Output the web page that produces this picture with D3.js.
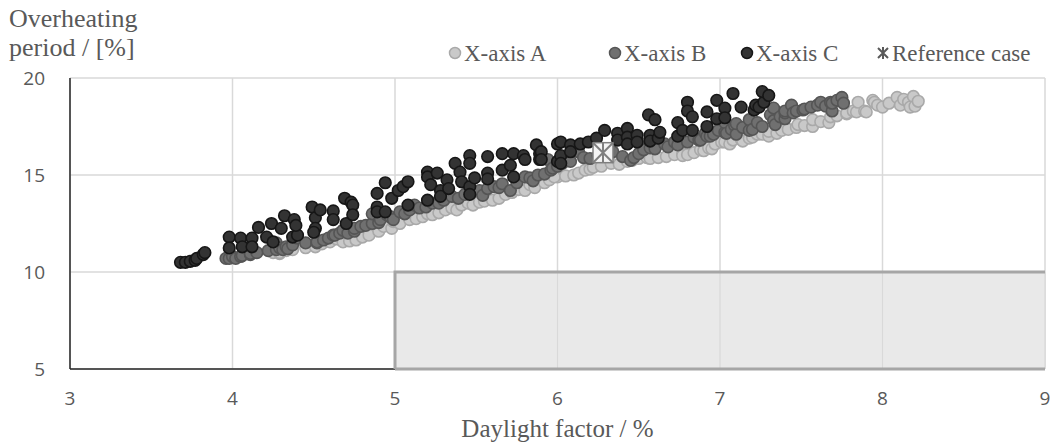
<!DOCTYPE html>
<html>
<head>
<meta charset="utf-8">
<script src="https://cdn.jsdelivr.net/npm/d3@7"></script>
<style>
  body { margin: 0; background: #fff; }
  svg { display: block; }
</style>
</head>
<body>
<div id="chart"></div>
<script>
// Series values: [daylight factor, overheating period]
const seriesA = [
  [4.25, 11.0], [4.29, 10.95], [4.29, 11.0], [4.33, 11.1], [4.37, 11.15], [4.45, 11.25], [4.51, 11.3],
  [4.55, 11.45], [4.6, 11.55], [4.64, 11.7], [4.68, 11.55], [4.72, 11.6], [4.76, 11.65], [4.8, 11.8],
  [4.84, 11.9], [4.9, 12.1], [4.93, 12.35], [4.98, 12.25], [4.99, 12.6], [5.03, 12.5], [5.09, 12.7],
  [5.13, 12.75], [5.17, 12.85], [5.2, 13.0], [5.23, 12.95], [5.27, 13.05], [5.31, 13.2], [5.35, 13.3],
  [5.38, 13.2], [5.41, 13.45], [5.45, 13.55], [5.48, 13.45], [5.52, 13.6], [5.55, 13.65], [5.6, 13.7],
  [5.64, 13.8], [5.68, 14.0], [5.72, 14.1], [5.76, 14.25], [5.8, 14.2], [5.83, 14.5], [5.86, 14.35],
  [5.92, 14.6], [5.95, 14.75], [6.0, 14.9], [5.98, 14.9], [6.05, 14.95], [6.1, 15.0], [6.13, 15.1],
  [6.17, 15.25], [6.2, 15.3], [6.22, 15.4], [6.27, 15.45], [6.33, 15.6], [6.38, 15.55], [6.43, 15.7],
  [6.46, 15.75], [6.5, 15.85], [6.55, 15.9], [6.57, 15.85], [6.62, 15.9], [6.67, 15.95], [6.72, 16.05],
  [6.77, 16.1], [6.77, 16.0], [6.8, 16.05], [6.84, 16.15], [6.88, 16.3], [6.91, 16.45], [6.9, 16.25],
  [6.93, 16.4], [6.95, 16.35], [6.97, 16.6], [7.01, 16.7], [7.03, 16.7], [7.06, 16.6], [7.08, 16.8],
  [7.13, 16.85], [7.14, 16.75], [7.18, 16.9], [7.2, 16.95], [7.23, 17.1], [7.26, 17.1], [7.3, 17.0],
  [7.3, 17.25], [7.35, 17.15], [7.38, 17.3], [7.42, 17.35], [7.47, 17.45], [7.48, 17.6], [7.52, 17.55],
  [7.57, 17.5], [7.57, 17.85], [7.62, 17.75], [7.67, 17.7], [7.68, 18.0], [7.72, 18.05], [7.78, 18.15],
  [7.78, 18.2], [7.82, 18.3], [7.84, 18.25], [7.85, 18.75], [7.89, 18.3], [7.9, 18.25], [7.94, 18.85],
  [7.95, 18.75], [7.97, 18.6], [8.0, 18.5], [8.04, 18.7], [8.09, 19.0], [8.11, 18.6], [8.13, 18.9],
  [8.16, 18.75], [8.17, 18.5], [8.19, 19.05], [8.2, 18.55], [8.22, 18.8]
];

const seriesB = [
  [3.96, 10.7], [3.98, 10.7], [4.0, 10.8], [4.02, 10.7], [4.05, 10.8], [4.06, 10.85], [4.11, 10.9],
  [4.11, 10.95], [4.15, 11.0], [4.22, 11.1], [4.27, 11.15], [4.27, 11.5], [4.29, 11.25], [4.31, 11.15],
  [4.33, 11.3], [4.34, 11.2], [4.37, 11.4], [4.4, 11.75], [4.45, 11.5], [4.52, 11.5], [4.52, 11.55],
  [4.56, 11.65], [4.59, 11.75], [4.62, 11.9], [4.63, 11.9], [4.66, 12.0], [4.68, 12.15], [4.71, 12.0],
  [4.75, 12.1], [4.75, 12.25], [4.79, 12.35], [4.82, 12.4], [4.86, 12.5], [4.86, 13.0], [4.9, 12.55],
  [4.91, 12.7], [4.95, 12.95], [4.97, 12.85], [4.99, 12.7], [5.03, 13.1], [5.06, 13.0], [5.09, 13.2],
  [5.12, 13.45], [5.15, 13.3], [5.19, 13.35], [5.23, 13.55], [5.27, 13.55], [5.3, 13.7], [5.35, 13.9],
  [5.39, 13.8], [5.43, 14.0], [5.47, 14.1], [5.52, 14.2], [5.54, 13.95], [5.57, 14.3], [5.61, 14.4],
  [5.64, 14.35], [5.66, 14.55], [5.71, 14.2], [5.75, 14.6], [5.8, 14.9], [5.83, 14.85], [5.85, 14.7],
  [5.88, 15.0], [5.92, 15.05], [5.94, 15.8], [5.96, 15.25], [5.97, 15.35], [6.0, 15.45], [6.03, 15.6],
  [6.08, 15.7], [6.13, 16.2], [6.16, 15.9], [6.2, 15.85], [6.25, 16.0], [6.34, 16.2], [6.4, 15.95],
  [6.45, 15.75], [6.47, 15.9], [6.5, 16.1], [6.52, 16.6], [6.53, 16.3], [6.57, 16.4], [6.6, 16.35],
  [6.62, 16.9], [6.66, 16.6], [6.68, 16.45], [6.72, 16.7], [6.74, 16.55], [6.8, 16.7], [6.84, 16.95],
  [6.87, 16.8], [6.88, 16.8], [6.91, 17.15], [6.92, 17.0], [6.94, 17.0], [6.96, 17.1], [6.99, 17.3],
  [7.03, 17.2], [7.03, 17.7], [7.04, 17.15], [7.07, 17.35], [7.09, 17.55], [7.1, 17.1], [7.1, 17.65],
  [7.14, 17.45], [7.18, 17.3], [7.18, 17.85], [7.2, 17.35], [7.23, 17.7], [7.26, 17.5], [7.31, 18.1],
  [7.33, 17.8], [7.33, 18.45], [7.34, 17.6], [7.37, 18.0], [7.4, 17.9], [7.4, 18.2], [7.4, 18.3],
  [7.44, 18.6], [7.45, 18.2], [7.47, 18.3], [7.51, 18.35], [7.52, 18.4], [7.56, 18.5], [7.6, 18.6],
  [7.62, 18.75], [7.65, 18.55], [7.68, 18.75], [7.69, 18.3], [7.69, 18.7], [7.72, 18.85], [7.75, 19.0],
  [7.76, 18.7]
];

const seriesC = [
  [3.68, 10.5], [3.71, 10.5], [3.74, 10.55], [3.77, 10.6], [3.78, 10.7], [3.82, 10.9], [3.83, 11.0],
  [3.98, 11.8], [3.98, 11.24], [4.05, 11.75], [4.06, 11.3], [4.12, 11.75], [4.12, 11.3], [4.16, 12.3],
  [4.21, 11.8], [4.25, 11.55], [4.24, 12.5], [4.3, 12.25], [4.32, 12.9], [4.37, 11.8], [4.38, 12.7],
  [4.4, 11.9], [4.39, 12.4], [4.49, 13.35], [4.51, 12.8], [4.51, 12.25], [4.54, 13.2], [4.5, 12.05],
  [4.62, 13.15], [4.62, 12.7], [4.69, 13.8], [4.7, 12.5], [4.73, 13.6], [4.74, 13.45], [4.74, 12.95],
  [4.89, 14.05], [4.89, 13.35], [4.89, 13.1], [4.94, 14.6], [4.94, 13.1], [4.98, 13.8], [5.02, 14.2],
  [5.05, 14.4], [5.08, 14.65], [5.08, 13.45], [5.2, 15.15], [5.2, 14.9], [5.2, 13.7], [5.22, 14.5],
  [5.26, 15.1], [5.28, 14.2], [5.28, 13.9], [5.32, 14.75], [5.33, 14.3], [5.37, 15.6], [5.4, 15.15],
  [5.41, 14.65], [5.46, 16.0], [5.46, 15.6], [5.46, 14.4], [5.46, 14.0], [5.49, 14.85], [5.57, 15.95],
  [5.57, 15.1], [5.57, 14.8], [5.66, 16.1], [5.66, 15.25], [5.71, 15.5], [5.73, 16.1], [5.73, 14.9],
  [5.79, 16.0], [5.8, 15.8], [5.87, 16.55], [5.89, 16.1], [5.89, 15.8], [5.9, 16.2], [5.9, 15.8],
  [6.0, 16.6], [6.0, 15.7], [6.02, 16.7], [6.02, 16.0], [6.02, 15.6], [6.08, 16.55], [6.08, 16.2],
  [6.14, 16.6], [6.19, 16.7], [6.24, 16.9], [6.29, 17.3], [6.37, 17.15], [6.37, 16.8], [6.43, 17.4],
  [6.43, 16.95], [6.43, 16.6], [6.49, 17.05], [6.49, 16.7], [6.56, 18.1], [6.6, 17.85], [6.57, 17.05],
  [6.57, 16.75], [6.62, 16.9], [6.63, 17.2], [6.74, 17.7], [6.74, 17.0], [6.77, 17.3], [6.8, 18.75],
  [6.8, 18.3], [6.83, 18.0], [6.83, 17.3], [6.92, 18.25], [6.92, 17.5], [6.98, 18.85], [6.98, 17.9],
  [7.03, 18.45], [7.03, 17.95], [7.08, 19.2], [7.13, 18.5], [7.21, 18.35], [7.22, 18.6], [7.24, 18.5],
  [7.27, 18.75], [7.26, 19.3], [7.3, 19.1]
];

const referenceCase = [[6.28, 16.15]];

const xTicks = [3, 4, 5, 6, 7, 8, 9];
const yTicks = [5, 10, 15, 20];
const thresholdBox = { x0: 5, x1: 9, y0: 5, y1: 10 };

const seriesNames = ["X-axis A", "X-axis B", "X-axis C", "Reference case"];

const W = 1057, H = 443;
const margin = {top: 78, right: 12, bottom: 74, left: 70},
  width = W - margin.left - margin.right,
  height = H - margin.top - margin.bottom;

const textColor = "#595959";
const gridColor = "#d9d9d9";

const styles = [
  {fill: "#c9c9c9", stroke: "#a9a9a9"},
  {fill: "#707070", stroke: "#555555"},
  {fill: "#333333", stroke: "#161616"}
];

const svg = d3.select("#chart")
  .append("svg")
  .attr("width", W)
  .attr("height", H);

const g = svg.append("g")
  .attr("transform", `translate(${margin.left}, ${margin.top})`);

const x = d3.scaleLinear().domain([3, 9]).range([0, width]);
const y = d3.scaleLinear().domain([5, 20]).range([height, 0]);

// gridlines
g.append("g")
  .selectAll("line")
  .data(yTicks)
  .join("line")
  .attr("x1", 0).attr("x2", width)
  .attr("y1", d => y(d)).attr("y2", d => y(d))
  .attr("stroke", gridColor).attr("stroke-width", 1.5);

g.append("g")
  .selectAll("line")
  .data(xTicks)
  .join("line")
  .attr("x1", d => x(d)).attr("x2", d => x(d))
  .attr("y1", 0).attr("y2", height)
  .attr("stroke", gridColor).attr("stroke-width", 1.5);

// axis lines
g.append("line")
  .attr("x1", 0).attr("x2", width)
  .attr("y1", height).attr("y2", height)
  .attr("stroke", "#262626").attr("stroke-width", 1.5);
g.append("line")
  .attr("x1", 0).attr("x2", 0)
  .attr("y1", 0).attr("y2", height)
  .attr("stroke", "#262626").attr("stroke-width", 1.5);

// threshold area
g.append("rect")
  .attr("x", x(thresholdBox.x0))
  .attr("y", y(thresholdBox.y1))
  .attr("width", x(thresholdBox.x1) - x(thresholdBox.x0))
  .attr("height", y(thresholdBox.y0) - y(thresholdBox.y1))
  .attr("fill", "#e9e9e9");

// vertical gridlines show through the box
g.append("g")
  .selectAll("line")
  .data(xTicks.filter(d => d > thresholdBox.x0))
  .join("line")
  .attr("x1", d => x(d)).attr("x2", d => x(d))
  .attr("y1", y(thresholdBox.y1)).attr("y2", height)
  .attr("stroke", gridColor).attr("stroke-width", 1.2);

g.append("path")
  .attr("d", `M${x(thresholdBox.x0)},${y(thresholdBox.y0)} V${y(thresholdBox.y1)} H${x(thresholdBox.x1)}`
    + ` M${x(thresholdBox.x0)},${y(thresholdBox.y0)} H${x(thresholdBox.x1)}`)
  .attr("fill", "none")
  .attr("stroke", "#a6a6a6")
  .attr("stroke-width", 3);

// tick labels
g.append("g")
  .selectAll("text")
  .data(yTicks)
  .join("text")
  .attr("x", -25)
  .attr("y", d => y(d))
  .attr("dy", "0.35em")
  .attr("text-anchor", "end")
  .style("font-family", "'Open Sans', sans-serif")
  .style("font-size", "19px")
  .style("fill", textColor)
  .text(d => d);

g.append("g")
  .selectAll("text")
  .data(xTicks)
  .join("text")
  .attr("x", d => x(d))
  .attr("y", height + 36)
  .attr("text-anchor", "middle")
  .style("font-family", "'Open Sans', sans-serif")
  .style("font-size", "19px")
  .style("fill", textColor)
  .text(d => d);

// scatter series
[seriesA, seriesB, seriesC].forEach((series, i) => {
  g.append("g")
    .selectAll("circle")
    .data(series)
    .join("circle")
    .attr("cx", d => x(d[0]))
    .attr("cy", d => y(d[1]))
    .attr("r", 5.8)
    .attr("fill", styles[i].fill)
    .attr("stroke", styles[i].stroke)
    .attr("stroke-width", 1.6);
});

// reference case marker
function refMarker(sel, s) {
  sel.append("rect")
    .attr("x", -s).attr("y", -s)
    .attr("width", 2 * s).attr("height", 2 * s)
    .attr("fill", "#f4f4f4")
    .attr("stroke", "#7f7f7f")
    .attr("stroke-width", 1.5);
  sel.append("path")
    .attr("d", `M${-s},${-s}L${s},${s}M${-s},${s}L${s},${-s}M0,${-s}V${s}`)
    .attr("stroke", "#7f7f7f")
    .attr("stroke-width", 2);
}

g.append("g")
  .selectAll("g")
  .data(referenceCase)
  .join("g")
  .attr("transform", d => `translate(${x(d[0])},${y(d[1])})`)
  .each(function() { refMarker(d3.select(this), 10); });

// axis titles
svg.append("text")
  .attr("x", margin.left + width / 2)
  .attr("y", 437)
  .attr("text-anchor", "middle")
  .style("font-family", "'Liberation Serif', serif")
  .style("font-size", "25px")
  .style("fill", textColor)
  .text("Daylight factor / %");

const yTitle = svg.append("text")
  .style("font-family", "'Liberation Serif', serif")
  .style("font-size", "26px")
  .style("fill", textColor);
yTitle.append("tspan").attr("x", 9).attr("y", 27).text("Overheating");
yTitle.append("tspan").attr("x", 9).attr("y", 56).text("period / [%]");

// legend
const legendX = [455, 615, 747, 883];
const legend = svg.append("g");
seriesNames.forEach((name, i) => {
  const item = legend.append("g")
    .attr("transform", `translate(${legendX[i]}, 53)`);
  if (i < 3) {
    item.append("circle")
      .attr("r", 5.5)
      .attr("fill", styles[i].fill)
      .attr("stroke", styles[i].stroke)
      .attr("stroke-width", 1.5);
  } else {
    item.append("path")
      .attr("d", "M-5,-5L5,5M-5,5L5,-5M0,-6V6")
      .attr("stroke", "#595959")
      .attr("stroke-width", 2);
  }
  item.append("text")
    .attr("x", 9)
    .attr("dy", "0.33em")
    .style("font-family", "'Liberation Serif', serif")
    .style("font-size", "23px")
    .style("fill", textColor)
    .text(name);
});
</script>
</body>
</html>
